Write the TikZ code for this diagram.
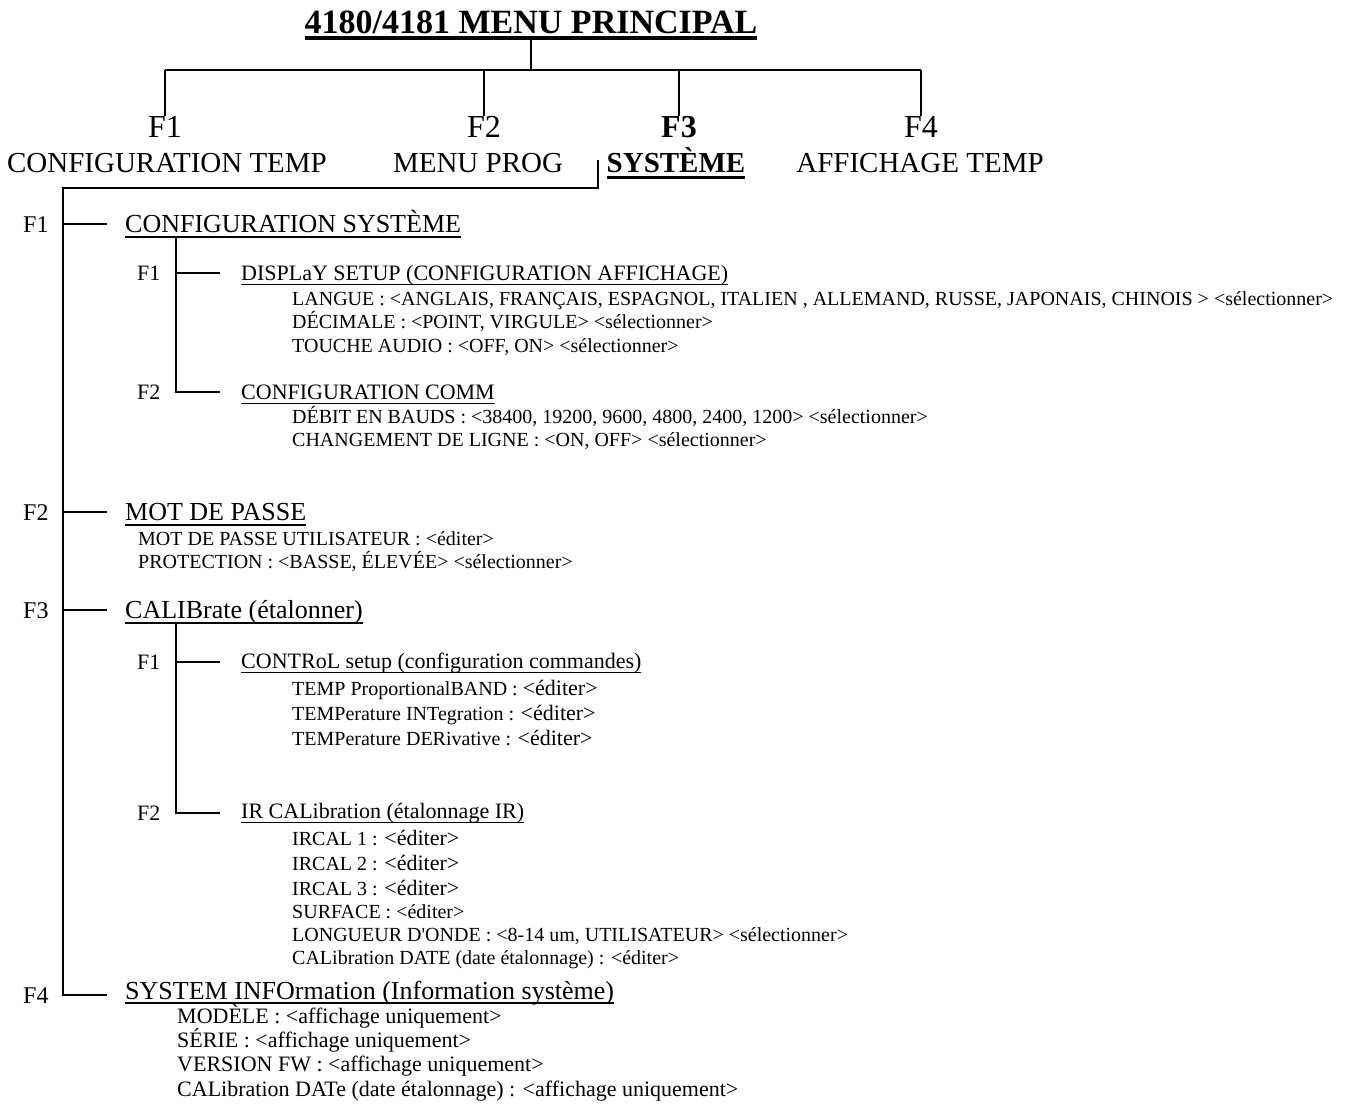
\documentclass[tikz,border=0pt]{standalone}
\usepackage{fontspec}
\setmainfont{Liberation Serif}
\usepackage{tikz}
\newcommand\fsz[1]{\fontsize{#1}{#1}\selectfont}
\newsavebox\ulbox
\newcommand\ulmenu[3][1.5pt]{\sbox\ulbox{#3}\rlap{\rule[\dimexpr-#2-#1\relax]{\wd\ulbox}{#1}}\usebox\ulbox}
\newcommand\edit{{\fsz{22}<éditer>}}
\tikzset{ tree/.style = {line width=2pt} }
\tikzset{ txt/.style = {inner sep=0pt, anchor=base west} }
\tikzset{ top_key/.style = {inner sep=0pt, anchor=base, font=\fsz{29}} }
\tikzset{ key_one/.style = {txt, font=\fsz{24}} }
\tikzset{ head_one/.style = {txt, font=\fsz{26}} }
\tikzset{ key_two/.style = {txt, font=\fsz{22}} }
\tikzset{ head_two/.style = {txt, font=\fsz{22}} }
\tikzset{ item/.style = {txt, font=\fsz{20}} }

\begin{document}
\begin{tikzpicture}[x=1pt,y=-1pt]
\useasboundingbox (0,0) rectangle (1348,1104);
% main menu
\node[top_key,font=\fsz{34}\bfseries] (title) at (531,33) {\ulmenu[4pt]{3pt}{4180/4181 MENU PRINCIPAL}};
\coordinate (hub) at (531,70);
\node[top_key,font=\fsz{32}] (k1) at (165,137) {F1};
\node[top_key,font=\fsz{32}] (k2) at (484,137) {F2};
\node[top_key,font=\fsz{32}\bfseries] (k3) at (679,137) {F3};
\node[top_key,font=\fsz{32}] (k4) at (921,137) {F4};
\node[top_key] (m1) at (167,172) {CONFIGURATION TEMP};
\node[top_key] (m2) at (478,172) {MENU PROG};
\node[top_key,font=\fsz{29}\bfseries] (m3) at (676,172) {\ulmenu[3pt]{4pt}{SYSTÈME}};
\node[top_key] (m4) at (920,172) {AFFICHAGE TEMP};
\draw[tree] (title) -- (hub);
\draw[tree] (k1.north |- hub) -- (k4.north |- hub);
\foreach \k in {k1,k2,k3,k4}
  \draw[tree] (\k.north |- hub) -- (\k.north);

% SYSTEME branches
\coordinate (drop) at (598,160);
\coordinate (spine) at (63,188);
\node[key_one] (a1) at (23,232) {F1};
\node[head_one] (h1) at (125,232) {\ulmenu{4pt}{CONFIGURATION SYSTÈME}};
\node[key_one] (a2) at (23,520) {F2};
\node[head_one] (h2) at (125,520) {\ulmenu{4pt}{MOT DE PASSE}};
\node[key_one] (a3) at (23,618) {F3};
\node[head_one] (h3) at (125,618) {\ulmenu{4pt}{CALIBrate (étalonner)}};
\node[key_one] (a4) at (23,1003) {F4};
\node[head_one] (h4) at (125,999) {\ulmenu{3pt}{SYSTEM INFOrmation (Information système)}};
\draw[tree] (drop) |- (spine) -- (spine |- a4.east) -- ([xshift=-18pt]h4.west |- a4.east);
\foreach \n in {1,2,3}
  \draw[tree] (spine |- a\n.east) -- ([xshift=-18pt]h\n.west |- a\n.east);

% configuration systeme
\coordinate (s1) at (176,238);
\node[key_two] (b1) at (137,280) {F1};
\node[head_two] (d1) at (241,280) {\ulmenu{3.5pt}{DISPLaY SETUP (CONFIGURATION AFFICHAGE)}};
\node[item] (i11) at (292,305) {LANGUE : <ANGLAIS, FRANÇAIS, ESPAGNOL, ITALIEN , ALLEMAND, RUSSE, JAPONAIS, CHINOIS > <sélectionner>};
\node[item] (i12) at (292,328) {DÉCIMALE : <POINT, VIRGULE> <sélectionner>};
\node[item] (i13) at (292,352) {TOUCHE AUDIO : <OFF, ON> <sélectionner>};
\node[key_two] (b2) at (137,399) {F2};
\node[head_two] (d2) at (241,399) {\ulmenu{3.5pt}{CONFIGURATION COMM}};
\node[item] (i21) at (292,423) {DÉBIT EN BAUDS : <38400, 19200, 9600, 4800, 2400, 1200> <sélectionner>};
\node[item] (i22) at (292,446) {CHANGEMENT DE LIGNE : <ON, OFF> <sélectionner>};
\draw[tree] (s1) -- (s1 |- b2.east) -- ([xshift=-21pt]d2.west |- b2.east);
\draw[tree] (s1 |- b1.east) -- ([xshift=-21pt]d1.west |- b1.east);

% mot de passe
\node[item] (p1) at (138,545) {MOT DE PASSE UTILISATEUR : <éditer>};
\node[item] (p2) at (138,568) {PROTECTION : <BASSE, ÉLEVÉE> <sélectionner>};

% calibrate
\coordinate (s3) at (176,624);
\node[key_two] (b3) at (137,669) {F1};
\node[head_two] (d3) at (241,668) {\ulmenu{3.5pt}{CONTRoL setup (configuration commandes)}};
\node[item] (c1) at (292,695) {TEMP ProportionalBAND : \edit};
\node[item] (c2) at (292,720) {TEMPerature INTegration : \edit};
\node[item] (c3) at (292,745) {TEMPerature DERivative : \edit};
\node[key_two] (b4) at (137,820) {F2};
\node[head_two] (d4) at (241,818) {\ulmenu{3.5pt}{IR CALibration (étalonnage IR)}};
\node[item] (r1) at (292,845) {IRCAL 1 : \edit};
\node[item] (r2) at (292,870) {IRCAL 2 : \edit};
\node[item] (r3) at (292,895) {IRCAL 3 : \edit};
\node[item] (r4) at (292,918) {SURFACE : <éditer>};
\node[item] (r5) at (292,941) {LONGUEUR D\textquotesingle ONDE : <8-14 um, UTILISATEUR> <sélectionner>};
\node[item] (r6) at (292,964) {CALibration DATE (date étalonnage) : <éditer>};
\draw[tree] (s3) -- (s3 |- b4.east) -- ([xshift=-21pt]d4.west |- b4.east);
\draw[tree] (s3 |- b3.east) -- ([xshift=-21pt]d3.west |- b3.east);

% system information
\node[item,font=\fsz{22}] (f1) at (177,1023) {MODÈLE : <affichage uniquement>};
\node[item,font=\fsz{22}] (f2) at (177,1047) {SÉRIE : <affichage uniquement>};
\node[item,font=\fsz{22}] (f3) at (177,1071) {VERSION FW : <affichage uniquement>};
\node[item,font=\fsz{22}] (f4) at (177,1096) {CALibration DATe (date étalonnage) : <affichage uniquement>};
\end{tikzpicture}
\end{document}
